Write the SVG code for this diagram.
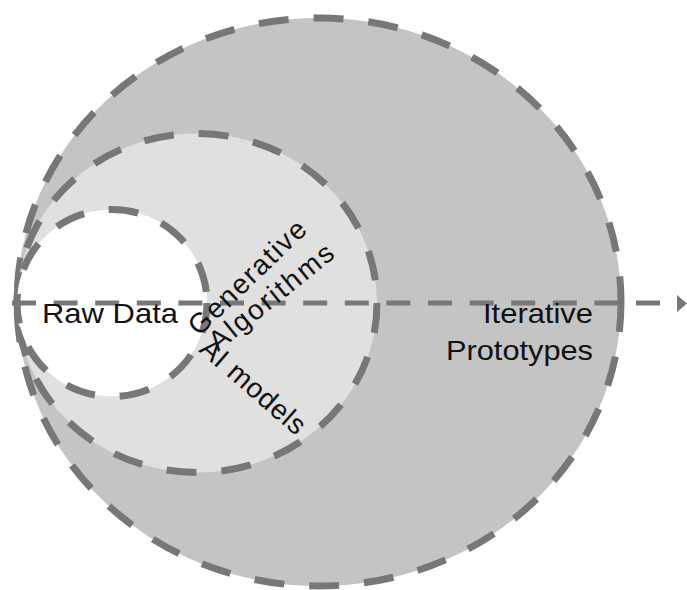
<svg xmlns="http://www.w3.org/2000/svg" width="687" height="590" viewBox="0 0 687 590">
  <defs>
    <style>
      .ring { stroke: #777777; stroke-width: 7; stroke-dasharray: 30 25; }
      .lbl { font-family: "Liberation Sans", Arial, sans-serif; font-size: 28px; fill: #111111; }
      .rot { font-family: "Liberation Sans", Arial, sans-serif; font-size: 28px; fill: #111111; }
    </style>
  </defs>
  <rect width="687" height="590" fill="#ffffff"/>
  <g id="node-iterative-prototypes">
    <ellipse class="ring" cx="319" cy="302" rx="302" ry="284" fill="#c4c4c4"/>
  </g>
  <g id="node-generative-ai">
    <ellipse class="ring" cx="197" cy="303" rx="180" ry="169.5" fill="#e0e0e0"/>
  </g>
  <g id="node-raw-data">
    <ellipse class="ring" cx="112" cy="303" rx="95" ry="93.5" fill="#ffffff"/>
  </g>
  <g id="connectors">
    <line x1="12" y1="303" x2="677" y2="303" stroke="#777777" stroke-width="5" stroke-dasharray="24 17.6"/>
    <polygon points="677,295 687,303.5 677,312" fill="#777777"/>
  </g>
  <g id="labels">
    <text class="lbl" x="42" y="323" textLength="136" lengthAdjust="spacingAndGlyphs">Raw Data</text>
    <text class="lbl" x="483" y="323" textLength="110" lengthAdjust="spacingAndGlyphs">Iterative</text>
    <text class="lbl" x="446" y="360" textLength="147" lengthAdjust="spacingAndGlyphs">Prototypes</text>
    <text class="rot" transform="translate(199,337) rotate(-44)" textLength="152" lengthAdjust="spacing">Generative</text>
    <text class="rot" transform="translate(218,352) rotate(-39)" textLength="152" lengthAdjust="spacing">Algorithms</text>
    <text class="rot" transform="translate(198,351) rotate(41)" textLength="130" lengthAdjust="spacing">AI models</text>
  </g>
</svg>
